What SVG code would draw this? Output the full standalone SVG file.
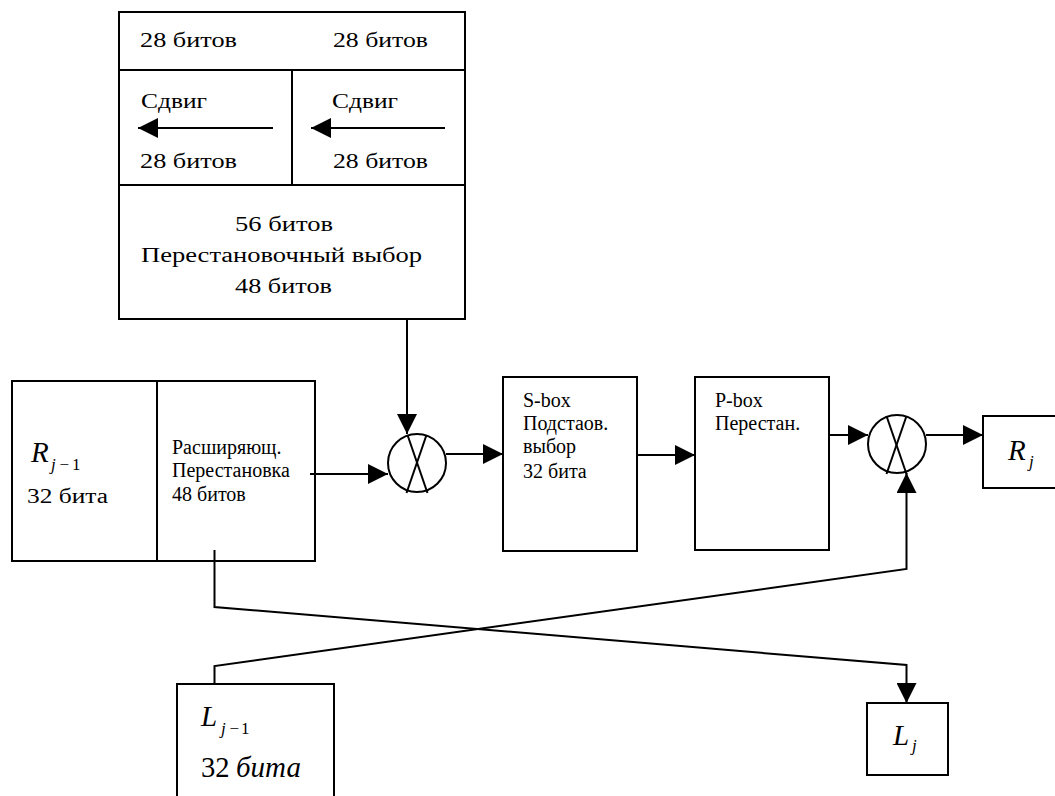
<svg xmlns="http://www.w3.org/2000/svg" width="1055" height="796" viewBox="0 0 1055 796">
  <style>
    .box { fill: #fff; stroke: #000; stroke-width: 2; }
    .ln { fill: none; stroke: #000; stroke-width: 2; }
    .arr { fill: none; stroke: #000; stroke-width: 2; marker-end: url(#tri); }
  </style>
  <defs>
    <marker id="tri" viewBox="0 0 20 20" refX="20" refY="10" markerWidth="20" markerHeight="20" markerUnits="userSpaceOnUse" orient="auto">
      <path d="M0,0 L20,10 L0,20 Z" fill="#000"/>
    </marker>
  </defs>

  <rect width="1055" height="796" fill="#fff"/>

  <!-- key schedule: two 28-bit halves, shift, permuted choice -->
  <g id="key-block">
    <rect class="box" x="119" y="12" width="346" height="307"/>
    <line class="ln" x1="119" y1="70" x2="465" y2="70"/>
    <line class="ln" x1="119" y1="185" x2="465" y2="185"/>
    <line class="ln" x1="292" y1="70" x2="292" y2="185"/>
    <text font-family="Liberation Serif, serif" font-size="21.6" x="140" y="47" textLength="97" lengthAdjust="spacingAndGlyphs">28 битов</text>
    <text font-family="Liberation Serif, serif" font-size="21.6" x="333" y="47" textLength="95" lengthAdjust="spacingAndGlyphs">28 битов</text>
    <text font-family="Liberation Serif, serif" font-size="21.6" x="141" y="108" textLength="66" lengthAdjust="spacingAndGlyphs">Сдвиг</text>
    <text font-family="Liberation Serif, serif" font-size="21.6" x="332" y="108" textLength="66" lengthAdjust="spacingAndGlyphs">Сдвиг</text>
    <line class="arr" x1="273" y1="128" x2="138" y2="128"/>
    <line class="arr" x1="445" y1="128" x2="311" y2="128"/>
    <text font-family="Liberation Serif, serif" font-size="21.6" x="140" y="168" textLength="97" lengthAdjust="spacingAndGlyphs">28 битов</text>
    <text font-family="Liberation Serif, serif" font-size="21.6" x="333" y="168" textLength="95" lengthAdjust="spacingAndGlyphs">28 битов</text>
    <text font-family="Liberation Serif, serif" font-size="21.6" x="235" y="231" textLength="98" lengthAdjust="spacingAndGlyphs">56 битов</text>
    <text font-family="Liberation Serif, serif" font-size="21.6" x="141" y="262" textLength="281" lengthAdjust="spacingAndGlyphs">Перестановочный выбор</text>
    <text font-family="Liberation Serif, serif" font-size="21.6" x="235" y="293" textLength="97" lengthAdjust="spacingAndGlyphs">48 битов</text>
  </g>

  <!-- right half input with expansion permutation -->
  <g id="r-prev">
    <rect class="box" x="12" y="381" width="303" height="180"/>
    <line class="ln" x1="157" y1="381" x2="157" y2="561"/>
    <text font-family="Liberation Serif, serif" font-size="29" font-style="italic" x="31" y="462">R</text>
    <text font-family="Liberation Serif, serif" font-size="17" font-style="italic" x="51" y="470">j</text>
    <text font-family="Liberation Serif, serif" font-size="17" x="59.5" y="470">−</text>
    <text font-family="Liberation Serif, serif" font-size="17" x="72" y="470">1</text>
    <text font-family="Liberation Serif, serif" font-size="21.6" x="27" y="503" textLength="81" lengthAdjust="spacingAndGlyphs">32 бита</text>
    <text font-family="Liberation Serif, serif" font-size="20" x="172" y="454">Расширяющ.</text>
    <text font-family="Liberation Serif, serif" font-size="20" x="172" y="477">Перестановка</text>
    <text font-family="Liberation Serif, serif" font-size="20" x="172" y="501">48 битов</text>
  </g>

  <!-- XOR with round key -->
  <g id="xor1">
    <circle class="ln" cx="417" cy="463" r="29"/>
    <line class="ln" x1="407.5" y1="435" x2="427.5" y2="493"/>
    <line class="ln" x1="426.5" y1="435" x2="406.5" y2="493"/>
  </g>

  <g id="s-box">
    <rect class="box" x="503" y="377" width="134" height="174"/>
    <text font-family="Liberation Serif, serif" font-size="20" x="523" y="407">S-box</text>
    <text font-family="Liberation Serif, serif" font-size="20" x="523" y="430">Подстаов.</text>
    <text font-family="Liberation Serif, serif" font-size="20" x="523" y="453">выбор</text>
    <text font-family="Liberation Serif, serif" font-size="20" x="523" y="478">32 бита</text>
  </g>

  <g id="p-box">
    <rect class="box" x="695" y="377" width="134" height="173"/>
    <text font-family="Liberation Serif, serif" font-size="20" x="715" y="407">P-box</text>
    <text font-family="Liberation Serif, serif" font-size="20" x="715" y="430">Перестан.</text>
  </g>

  <!-- XOR with left half -->
  <g id="xor2">
    <circle class="ln" cx="897" cy="444" r="29"/>
    <line class="ln" x1="886.5" y1="416" x2="906.5" y2="474"/>
    <line class="ln" x1="906.5" y1="416" x2="886.5" y2="474"/>
  </g>

  <g id="r-next">
    <rect class="box" x="983" y="416" width="80" height="72"/>
    <text font-family="Liberation Serif, serif" font-size="29" font-style="italic" x="1008" y="460">R</text>
    <text font-family="Liberation Serif, serif" font-size="17" font-style="italic" x="1029" y="467">j</text>
  </g>

  <g id="l-prev">
    <rect class="box" x="177" y="684" width="157" height="130"/>
    <text font-family="Liberation Serif, serif" font-size="29" font-style="italic" x="201" y="726">L</text>
    <text font-family="Liberation Serif, serif" font-size="17" font-style="italic" x="221" y="734">j</text>
    <text font-family="Liberation Serif, serif" font-size="17" x="229.5" y="734">−</text>
    <text font-family="Liberation Serif, serif" font-size="17" x="241" y="734">1</text>
    <text font-family="Liberation Serif, serif" font-size="28.6" x="201" y="777">32</text>
    <text font-family="Liberation Serif, serif" font-size="29" font-style="italic" x="236" y="777">бита</text>
  </g>

  <g id="l-next">
    <rect class="box" x="867" y="703" width="81" height="72"/>
    <text font-family="Liberation Serif, serif" font-size="29" font-style="italic" x="893" y="745">L</text>
    <text font-family="Liberation Serif, serif" font-size="17" font-style="italic" x="912" y="751">j</text>
  </g>

  <g id="connectors">
    <line class="arr" x1="407" y1="319" x2="407" y2="434"/>
    <line class="arr" x1="310" y1="474" x2="388" y2="474"/>
    <line class="arr" x1="446" y1="454" x2="503" y2="454"/>
    <line class="arr" x1="637" y1="455" x2="695" y2="455"/>
    <line class="arr" x1="829" y1="435" x2="868" y2="435"/>
    <line class="arr" x1="926" y1="435" x2="983" y2="435"/>
    <!-- expansion output routed to new left half -->
    <polyline class="arr" points="214.5,550 214.5,607 906.5,665 906.5,703"/>
    <!-- old left half routed up into second XOR -->
    <polyline class="arr" points="214.5,684 214.5,666 906.5,569 906.5,473"/>
  </g>
</svg>
